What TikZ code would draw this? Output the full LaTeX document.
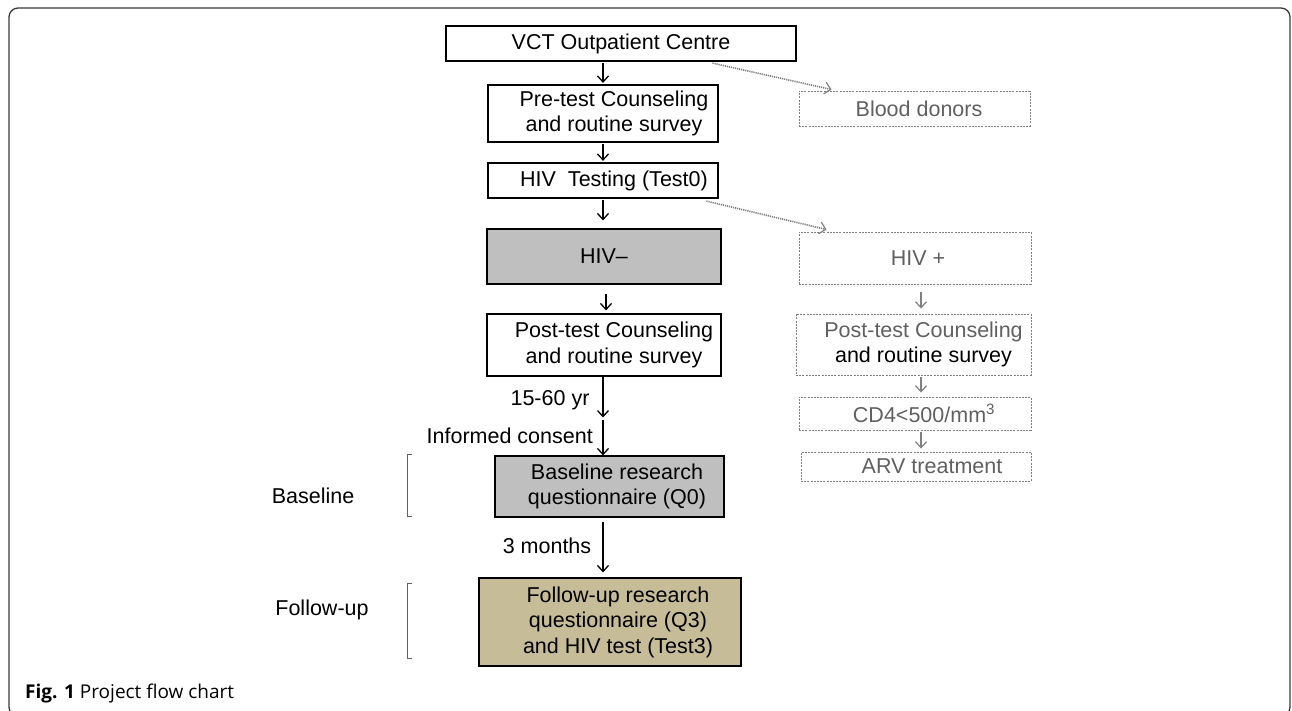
\documentclass[tikz,border=0pt]{standalone}
\usepackage{fontspec}
\setmainfont{Liberation Sans}
\newfontfamily\capfont{Open Sans}
\usetikzlibrary{arrows.meta,calc}
\definecolor{boxgray}{HTML}{BFBFBF}
\definecolor{tan}{HTML}{C6BD98}
\definecolor{dgray}{HTML}{808080}
\definecolor{tgray}{HTML}{606060}
\definecolor{frame}{HTML}{3A3A3A}
\begin{document}
\begin{tikzpicture}[x=1pt,y=-1pt,
  every node/.style={font=\fontsize{21.5}{25.5}\selectfont, inner sep=0pt, align=center},
  box/.style={draw=black, line width=1.2pt},
  gbox/.style={draw=dgray, line width=0.9pt, dash pattern=on 2pt off 1.2pt, text=tgray},
  arr/.style={line width=1.4pt, -{Straight Barb[length=6pt,width=11pt,line width=1.3pt]}},
  garr/.style={draw=dgray, line width=1.2pt, -{Straight Barb[length=6pt,width=11pt,line width=1.2pt]}},
  darr/.style={draw=dgray, line width=1.6pt, dash pattern=on 1.2pt off 0.9pt, -{Straight Barb[length=6pt,width=12pt,line width=1.2pt]}},
  brk/.style={draw=frame!80, line width=1pt},
  lab/.style={anchor=base}]
\useasboundingbox (0,0) rectangle (1292,711);
\begin{scope}
\clip (0,0) rectangle (1292,711);
\draw[line width=1.3pt, frame, rounded corners=9pt] (9,8) rectangle (1290,716);
\end{scope}

% left column
\node[box, minimum width=350pt, minimum height=35pt] (vct) at (621,43.5) {VCT Outpatient Centre};
\node[box, minimum width=230pt, minimum height=57pt] (pre) at (603,113.5) {\hspace*{22pt}Pre-test Counseling\\\hspace*{22pt}and routine survey};
\node[box, minimum width=230pt, minimum height=35pt] (test) at (603,180.5) {\hspace*{22pt}HIV\ \ Testing (Test0)};
\node[box, fill=boxgray, minimum width=234pt, minimum height=55pt] (neg) at (604,256.5) {HIV\textendash};
\node[box, minimum width=234pt, minimum height=62pt] (post) at (604,345) {\hspace*{20pt}Post-test Counseling\\\hspace*{20pt}and routine survey};
\node[box, fill=boxgray, minimum width=229pt, minimum height=61pt] (base) at (609.5,486.5) {\hspace*{15pt}Baseline research\\\hspace*{15pt}questionnaire (Q0)};
\node[box, fill=tan, minimum width=262pt, minimum height=88pt] (follow) at (610,622) {\hspace*{16pt}Follow-up research\\\hspace*{16pt}questionnaire (Q3)\\\hspace*{16pt}and HIV test (Test3)};

% right column
\node[gbox, minimum width=231pt, minimum height=35pt] (donor) at (914.5,108.5) {\hspace*{9pt}Blood donors};
\node[gbox, minimum width=232pt, minimum height=52pt] (pos) at (915,258) {\hspace*{6pt}HIV +};
\node[gbox, minimum width=235pt, minimum height=61pt] (post2) at (913.5,344.5) {\hspace*{20pt}Post-test Counseling\\\hspace*{20pt}\textcolor{black}{and routine survey}};
\node[gbox, minimum width=232pt, minimum height=33pt] (cd4) at (915,413.5) {\hspace*{18pt}CD4<500/mm\textsuperscript{3}};
\node[gbox, minimum width=230pt, minimum height=29pt] (arv) at (916,466.5) {\hspace*{32pt}ARV treatment};

% main arrows
\draw[arr, shorten <=1.5pt, shorten >=1.5pt] (vct.south -| pre.north) -- (pre.north);
\draw[arr, shorten <=1.5pt, shorten >=1.5pt] (pre.south) -- (test.north);
\draw[arr, shorten <=1pt, shorten >=8pt] (test.south) -- (test.south |- neg.north);
\coordinate (nx) at ($(neg.south)+(2,0)$);
\draw[arr, shorten <=9pt, shorten >=3pt] (nx) -- (nx |- post.north);
\coordinate (mx) at (603,419);
\node[lab] (age) at (550,405.5) {15-60 yr};
\node[lab, anchor=base east] (ic) at (593,443.5) {Informed consent};
\draw[arr] (post.south -| mx) -- ($(mx)+(0,-1.5)$);
\draw[arr] ($(mx)+(0,1)$) -- (base.north -| mx);
\node[lab] (mon) at (547,553.5) {3 months};
\draw[arr, shorten <=4pt, shorten >=5pt] (base.south -| mx) -- (follow.north -| mx);

% right arrows
\coordinate (rx) at (921,0);
\draw[garr, shorten <=8pt, shorten >=5pt] (pos.south -| rx) -- (post2.north -| rx);
\draw[garr, shorten <=2pt, shorten >=4pt] (post2.south -| rx) -- (cd4.north -| rx);
\draw[garr, shorten <=2pt, shorten >=3pt] (cd4.south -| rx) -- (arv.north -| rx);

% dotted arrows
\draw[darr] ($(vct.south west)+(267,1.5)$) -- ($(donor.north west)+(33,-1)$);
\draw[darr] ($(test.south west)+(219,2.5)$) -- ($(pos.north west)+(28,-2)$);

% brackets and phase labels
\draw[brk] (412,454) -- (407,454) -- (407,516) -- (412,516);
\draw[brk] (412,583) -- (407,583) -- (407,658) -- (412,658);
\node[lab] (bl) at (313,503) {Baseline};
\node[lab] (fu) at (322,615.5) {Follow-up};

% caption
\node[anchor=base west, font=\capfont\fontsize{19}{22}\selectfont] (cap) at (25,698.5) {\textbf{Fig. 1}\ Project flow chart};
\end{tikzpicture}
\end{document}
